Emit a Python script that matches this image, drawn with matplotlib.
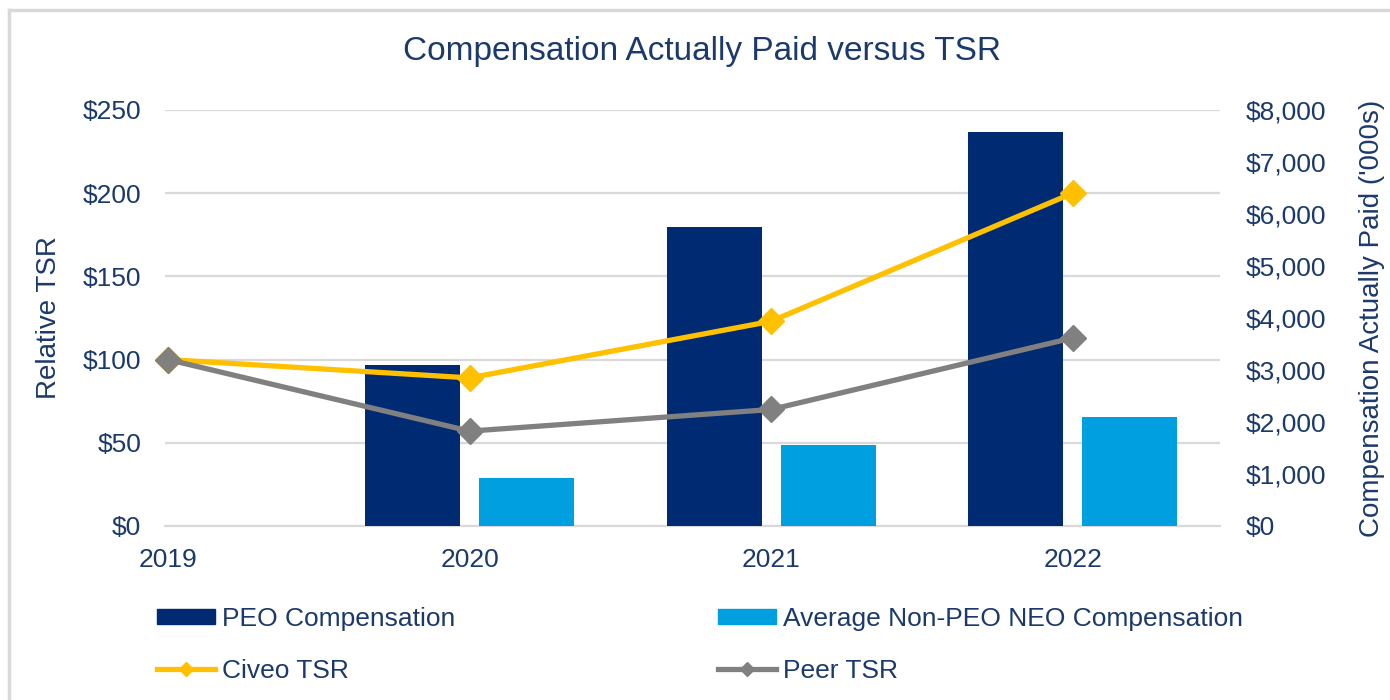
import matplotlib.pyplot as plt
from matplotlib.lines import Line2D
from matplotlib.patches import Patch
import numpy as np

plt.rcParams['font.family'] = ['Liberation Sans', 'DejaVu Sans']

years = ['2019', '2020', '2021', '2022']
peo_comp = [np.nan, 3100, 5750, 7580]        # $000s
neo_comp = [np.nan, 920, 1560, 2090]         # $000s
civeo_tsr = [100, 89, 123, 200]
peer_tsr = [100, 57, 70, 113]

navy = '#002B73'
light_blue = '#009FDF'
gold = '#FFC000'
grey = '#808080'
text_col = '#1B3A6B'
grid_col = '#D9D9D9'

x = np.arange(len(years))
bar_w = 0.315
off = 0.189

fig = plt.figure(figsize=(13.9, 7), dpi=100)
ax = fig.add_axes([0.1187, 0.2486, 0.7593, 0.5943])
ax2 = ax.twinx()
ax3 = ax.twinx()

# left axis: TSR, gridlines only
ax.set_ylim(0, 250)
ax.set_yticks(np.arange(0, 251, 50))
ax.set_yticklabels([f'${v}' for v in range(0, 251, 50)])
ax.set_xlim(-0.01, 3.49)
ax.set_xticks(x)
ax.set_xticklabels(years)
ax.yaxis.grid(True, color=grid_col, linewidth=1.6)
ax.set_axisbelow(True)
for s in ['top', 'right', 'left']:
    ax.spines[s].set_visible(False)
ax.spines['bottom'].set_color(grid_col)
ax.spines['bottom'].set_linewidth(1.6)
ax.tick_params(axis='both', length=0, labelsize=19, labelcolor=text_col)
ax.tick_params(axis='y', pad=17)
ax.tick_params(axis='x', pad=16)
ax.set_ylabel('Relative TSR', fontsize=20, color=text_col, labelpad=15)

# right axis: compensation bars
ax2.bar(x - off, peo_comp, bar_w, color=navy)
ax2.bar(x + off, neo_comp, bar_w, color=light_blue)
ax2.set_ylim(0, 8000)
ax2.set_yticks(np.arange(0, 8001, 1000))
ax2.set_yticklabels([f'${v:,}' for v in range(0, 8001, 1000)])
for s in ax2.spines.values():
    s.set_visible(False)
ax2.tick_params(axis='y', length=0, labelsize=19, labelcolor=text_col, pad=18)
ax2.set_ylabel("Compensation Actually Paid ('000s)", fontsize=20,
               color=text_col, labelpad=24)

# lines on top, same scale as left axis
ax3.set_ylim(ax.get_ylim())
ax3.axis('off')
ax3.plot(x, civeo_tsr, color=gold, lw=3.8, marker='D', ms=13, clip_on=False)
ax3.plot(x, peer_tsr, color=grey, lw=3.8, marker='D', ms=13, clip_on=False)

fig.suptitle('Compensation Actually Paid versus TSR', x=0.505, y=0.948,
             fontsize=24, color=text_col)

handles = [
    Patch(color=navy),
    Line2D([], [], color=gold, lw=3.8, marker='D', ms=7),
    Patch(color=light_blue),
    Line2D([], [], color=grey, lw=3.8, marker='D', ms=7),
]
labels = ['PEO Compensation', 'Civeo TSR',
          'Average Non-PEO NEO Compensation', 'Peer TSR']
fig.legend(handles, labels, ncol=2, loc='upper left',
           bbox_to_anchor=(0.096, 0.167), frameon=False, fontsize=19,
           labelcolor=text_col, handlelength=2.2, handleheight=0.5,
           handletextpad=0.27, columnspacing=9.95, labelspacing=1.05)

# light frame at the top-left of the picture
fig.add_artist(Line2D([0.0065, 0.0065], [0, 0.986], color=grid_col, lw=2.5))
fig.add_artist(Line2D([0.0065, 1], [0.986, 0.986], color=grid_col, lw=2.5))

fig.savefig('out.png', dpi=100)
